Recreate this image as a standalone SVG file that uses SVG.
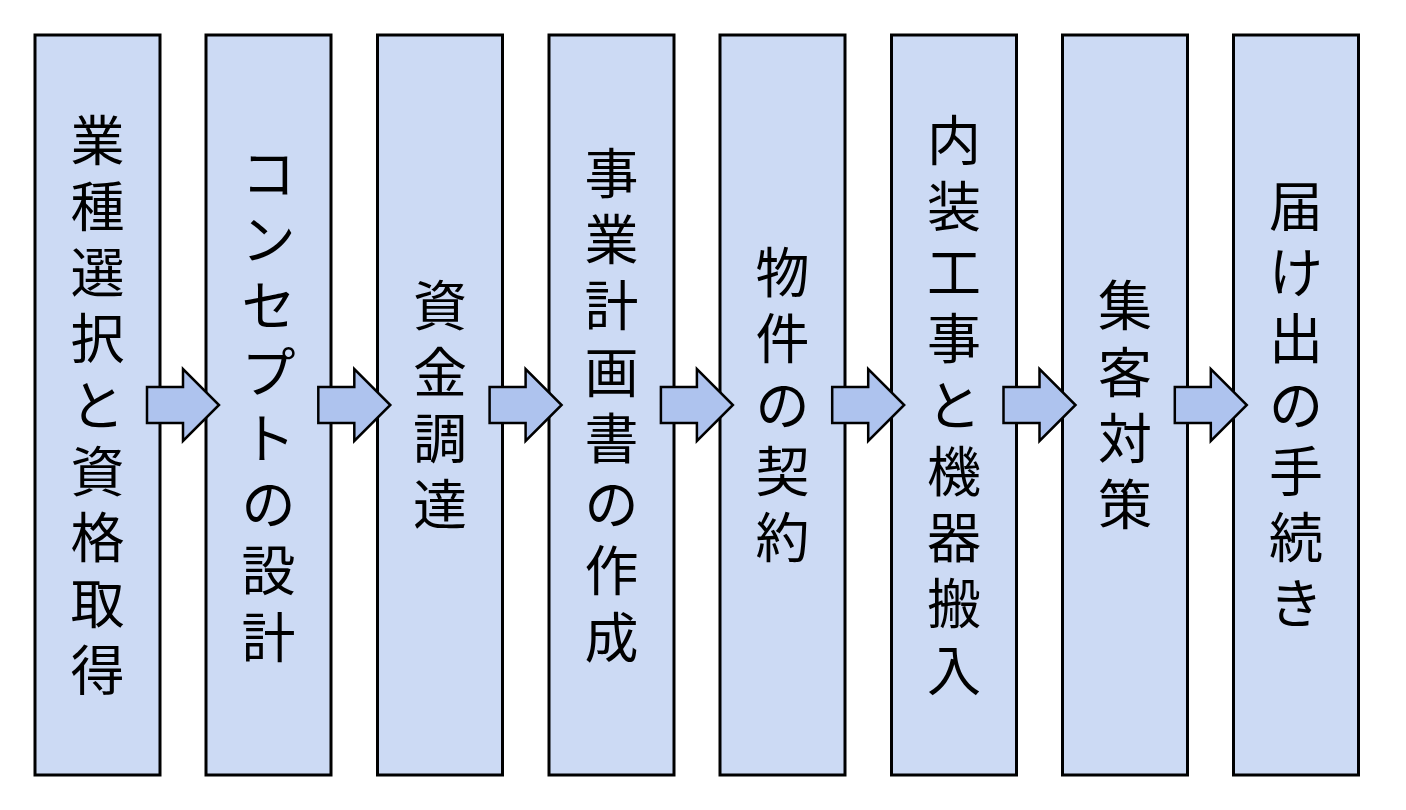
<svg xmlns="http://www.w3.org/2000/svg" width="1406" height="810" viewBox="0 0 1406 810">
<style>
.box{fill:#CCDAF4;stroke:#000;stroke-width:3}
.arr{fill:#AEC3EE;stroke:#000;stroke-width:2.5;stroke-linejoin:miter}
.t{font-family:"Noto Sans CJK JP","Noto Sans CJK SC",sans-serif;font-size:54px;fill:#000;text-anchor:middle}
</style>
<defs>
<polygon id="arrow" points="147,387 183,387 183,369 219,405 183,441 183,423 147,423"/>
</defs>
<rect width="1406" height="810" fill="#fff"/>
<g id="n1"><rect class="box" x="35" y="35" width="125" height="740"/>
<text class="t"><tspan x="97.5" y="161">業</tspan><tspan x="97.5" y="227">種</tspan><tspan x="97.5" y="293">選</tspan><tspan x="97.5" y="359">択</tspan><tspan x="97.5" y="426">と</tspan><tspan x="97.5" y="492">資</tspan><tspan x="97.5" y="558">格</tspan><tspan x="97.5" y="624">取</tspan><tspan x="97.5" y="691">得</tspan></text></g>
<g id="n2"><rect class="box" x="206" y="35" width="125" height="740"/>
<text class="t"><tspan x="268.5" y="194">コ</tspan><tspan x="268.5" y="260">ン</tspan><tspan x="268.5" y="326">セ</tspan><tspan x="268.5" y="393">プ</tspan><tspan x="268.5" y="459">ト</tspan><tspan x="268.5" y="525">の</tspan><tspan x="268.5" y="591">設</tspan><tspan x="268.5" y="658">計</tspan></text></g>
<g id="n3"><rect class="box" x="377.5" y="35" width="125" height="740"/>
<text class="t"><tspan x="440" y="326">資</tspan><tspan x="440" y="393">金</tspan><tspan x="440" y="459">調</tspan><tspan x="440" y="525">達</tspan></text></g>
<g id="n4"><rect class="box" x="549" y="35" width="125" height="740"/>
<text class="t"><tspan x="611.5" y="194">事</tspan><tspan x="611.5" y="260">業</tspan><tspan x="611.5" y="326">計</tspan><tspan x="611.5" y="393">画</tspan><tspan x="611.5" y="459">書</tspan><tspan x="611.5" y="525">の</tspan><tspan x="611.5" y="591">作</tspan><tspan x="611.5" y="658">成</tspan></text></g>
<g id="n5"><rect class="box" x="720" y="35" width="125" height="740"/>
<text class="t"><tspan x="782.5" y="293">物</tspan><tspan x="782.5" y="359">件</tspan><tspan x="782.5" y="426">の</tspan><tspan x="782.5" y="492">契</tspan><tspan x="782.5" y="558">約</tspan></text></g>
<g id="n6"><rect class="box" x="891.5" y="35" width="125" height="740"/>
<text class="t"><tspan x="954" y="161">内</tspan><tspan x="954" y="227">装</tspan><tspan x="954" y="293">工</tspan><tspan x="954" y="359">事</tspan><tspan x="954" y="426">と</tspan><tspan x="954" y="492">機</tspan><tspan x="954" y="558">器</tspan><tspan x="954" y="624">搬</tspan><tspan x="954" y="691">入</tspan></text></g>
<g id="n7"><rect class="box" x="1062.5" y="35" width="125" height="740"/>
<text class="t"><tspan x="1125" y="326">集</tspan><tspan x="1125" y="393">客</tspan><tspan x="1125" y="459">対</tspan><tspan x="1125" y="525">策</tspan></text></g>
<g id="n8"><rect class="box" x="1233.5" y="35" width="125" height="740"/>
<text class="t"><tspan x="1296" y="227">届</tspan><tspan x="1296" y="293">け</tspan><tspan x="1296" y="359">出</tspan><tspan x="1296" y="426">の</tspan><tspan x="1296" y="492">手</tspan><tspan x="1296" y="558">続</tspan><tspan x="1296" y="624">き</tspan></text></g>
<g id="connectors">
<use href="#arrow" class="arr"/>
<use href="#arrow" class="arr" x="171.3"/>
<use href="#arrow" class="arr" x="342.6"/>
<use href="#arrow" class="arr" x="513.9"/>
<use href="#arrow" class="arr" x="685.2"/>
<use href="#arrow" class="arr" x="856.5"/>
<use href="#arrow" class="arr" x="1027.8"/>
</g>
</svg>
